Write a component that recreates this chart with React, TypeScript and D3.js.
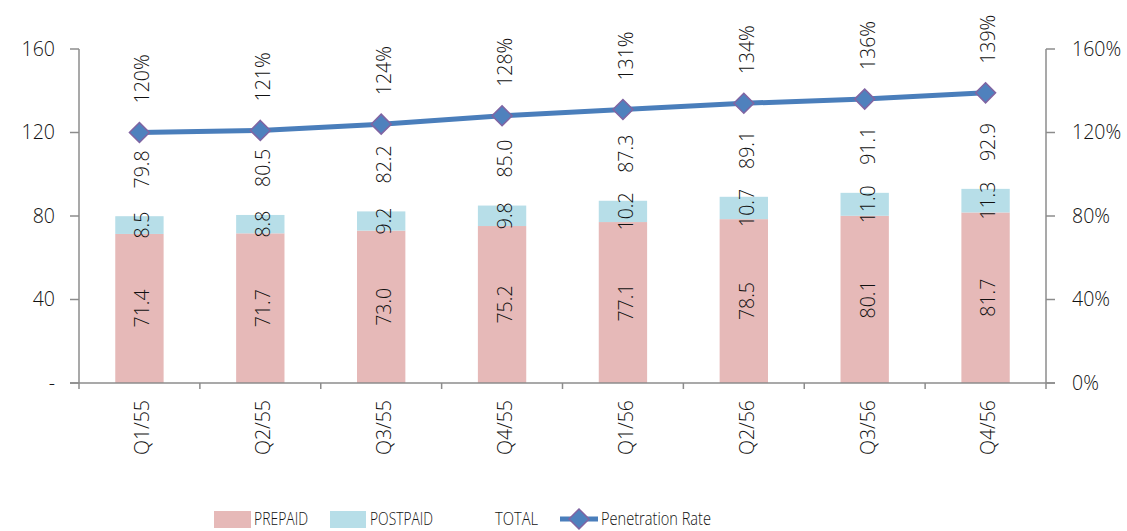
import React from "react";
import * as d3 from "d3";

const categories = ["Q1/55", "Q2/55", "Q3/55", "Q4/55", "Q1/56", "Q2/56", "Q3/56", "Q4/56"];
const prepaid = [71.4, 71.7, 73.0, 75.2, 77.1, 78.5, 80.1, 81.7];
const postpaid = [8.5, 8.8, 9.2, 9.8, 10.2, 10.7, 11.0, 11.3];
const total = [79.8, 80.5, 82.2, 85.0, 87.3, 89.1, 91.1, 92.9];
const penetration = [120, 121, 124, 128, 131, 134, 136, 139];
const leftTicks = [0, 40, 80, 120, 160];
const rightTicks = [0, 40, 80, 120, 160];

const W = 1127;
const H = 531;
const M = { left: 79, right: 1046, top: 49, bottom: 383 };
const FONT = "'Open Sans', 'Liberation Sans', sans-serif";
const FW = 300;
const FS = 19.5;
const TXT = "#111";
const AXIS = "#8c8c8c";
const PRE = "#e6b9b8";
const POST = "#b7dee8";
const LINE = "#4a7ebb";
const MARK = "#4f81bd";
const MARK_STROKE = "#8064a2";

export default function App() {
  const xb = d3.scaleBand<string>().domain(categories).range([M.left, M.right]);
  const y = d3.scaleLinear().domain([0, 160]).range([M.bottom, M.top]);
  const yr = d3.scaleLinear().domain([0, 160]).range([M.bottom, M.top]);
  const cx = (c: string) => (xb(c) as number) + xb.bandwidth() / 2;
  const bw = xb.bandwidth() * 0.4;
  const line = d3
    .line<number>()
    .x((_, i) => cx(categories[i]))
    .y((d) => yr(d));
  const diamond = (px: number, py: number, r: number) =>
    `M${px},${py - r}L${px + r},${py}L${px},${py + r}L${px - r},${py}Z`;

  const rotText = (px: number, py: number, txt: string, anchor: string, key: string) => (
    <text
      key={key}
      transform={`translate(${px},${py}) rotate(-90)`}
      textAnchor={anchor}
      dy="0.35em"
      fontSize={FS}
      fill={TXT}
    >
      {txt}
    </text>
  );

  return (
    <div style={{ position: "absolute", left: 0, top: 0 }}>
      <svg width={W} height={H} fontFamily={FONT} fontWeight={FW} style={{ display: "block", background: "#fff" }}>
        {/* bars */}
        {categories.map((c, i) => {
          const bx = cx(c) - bw / 2;
          return (
            <g key={c}>
              <rect x={bx} y={y(prepaid[i])} width={bw} height={y(0) - y(prepaid[i])} fill={PRE} />
              <rect
                x={bx}
                y={y(prepaid[i] + postpaid[i])}
                width={bw}
                height={y(prepaid[i]) - y(prepaid[i] + postpaid[i])}
                fill={POST}
              />
            </g>
          );
        })}
        {/* axes */}
        <line x1={M.left} x2={M.left} y1={M.top} y2={M.bottom + 6} stroke={AXIS} strokeWidth={1.5} />
        <line x1={M.right} x2={M.right} y1={M.top} y2={M.bottom + 6} stroke={AXIS} strokeWidth={1.5} />
        <line x1={M.left - 9} x2={M.right + 9} y1={M.bottom} y2={M.bottom} stroke={AXIS} strokeWidth={1.5} />
        {leftTicks.map((t) => (
          <g key={"l" + t}>
            <line x1={M.left - 9} x2={M.left} y1={y(t)} y2={y(t)} stroke={AXIS} strokeWidth={1.5} />
            <text x={55} y={y(t)} dy="0.35em" textAnchor="end" fontSize={FS} fill={TXT}>
              {t === 0 ? "-" : String(t)}
            </text>
          </g>
        ))}
        {rightTicks.map((t) => (
          <g key={"r" + t}>
            <line x1={M.right} x2={M.right + 9} y1={yr(t)} y2={yr(t)} stroke={AXIS} strokeWidth={1.5} />
            <text x={1072} y={yr(t)} dy="0.35em" textAnchor="start" fontSize={FS} fill={TXT}>
              {t + "%"}
            </text>
          </g>
        ))}
        {categories.slice(1).map((c) => (
          <line
            key={"t" + c}
            x1={xb(c) as number}
            x2={xb(c) as number}
            y1={M.bottom}
            y2={M.bottom + 6}
            stroke={AXIS}
            strokeWidth={1.5}
          />
        ))}
        {categories.map((c) => rotText(cx(c) + 3, 400, c, "end", "x" + c))}
        {/* bar labels */}
        {categories.map((c, i) => (
          <g key={"bl" + c}>
            {rotText(cx(c) + 3, (y(0) + y(prepaid[i])) / 2, prepaid[i].toFixed(1), "middle", "p" + c)}
            {rotText(
              cx(c) + 3,
              (y(prepaid[i]) + y(prepaid[i] + postpaid[i])) / 2,
              postpaid[i].toFixed(1),
              "middle",
              "q" + c
            )}
            {rotText(cx(c) + 3, y(total[i]) - 28, total[i].toFixed(1), "start", "t" + c)}
          </g>
        ))}
        {/* line */}
        <path d={line(penetration) || ""} fill="none" stroke={LINE} strokeWidth={5} strokeLinejoin="round" />
        {penetration.map((v, i) => (
          <path
            key={"m" + i}
            d={diamond(cx(categories[i]), yr(v), 10)}
            fill={MARK}
            stroke={MARK_STROKE}
            strokeWidth={1.5}
          />
        ))}
        {penetration.map((v, i) => rotText(cx(categories[i]) + 3, yr(v) - 29, v + "%", "start", "pl" + i))}
        {/* legend */}
        <g fontSize={19} fill={TXT}>
          <rect x={214} y={511} width={37} height={17} fill={PRE} />
          <text x={254} y={525} textLength={54} lengthAdjust="spacingAndGlyphs">PREPAID</text>
          <rect x={330} y={511} width={36} height={17} fill={POST} />
          <text x={370} y={525} textLength={63} lengthAdjust="spacingAndGlyphs">POSTPAID</text>
          <text x={495} y={525} textLength={43} lengthAdjust="spacingAndGlyphs">TOTAL</text>
          <line x1={560} x2={598} y1={519} y2={519} stroke={LINE} strokeWidth={5} />
          <path d={diamond(579, 519, 10)} fill={MARK} stroke={MARK_STROKE} strokeWidth={1.5} />
          <text x={601} y={525} textLength={110} lengthAdjust="spacingAndGlyphs">Penetration Rate</text>
        </g>
      </svg>
    </div>
  );
}
